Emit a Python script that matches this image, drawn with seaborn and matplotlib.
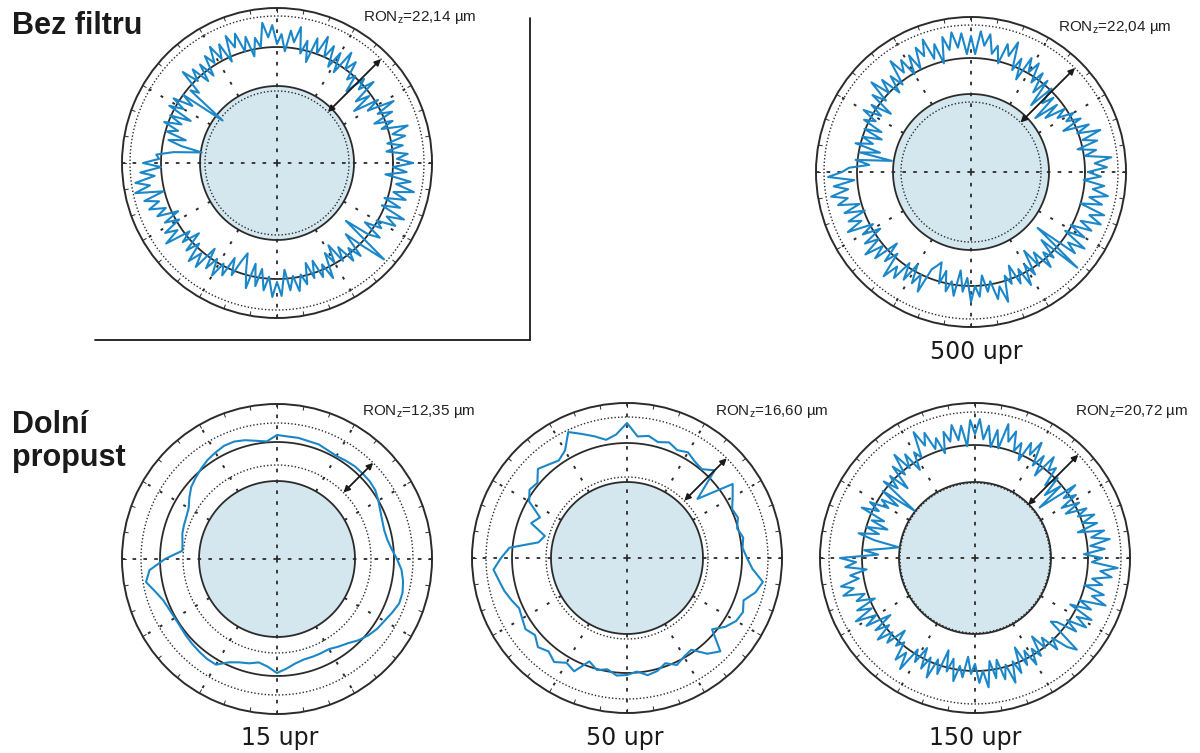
import numpy as np
import matplotlib
matplotlib.use("Agg")
import matplotlib.pyplot as plt
from matplotlib.lines import Line2D
import seaborn as sns

sns.set_theme(style="white")
plt.rcParams['font.family'] = ['Liberation Sans', 'DejaVu Sans']

# ---------------- data ----------------
headings = ["Bez filtru", "Dolní", "propust"]
speed_labels = ["", "500 upr", "15 upr", "50 upr", "150 upr"]
ron_values = ["22,14", "22,04", "12,35", "16,60", "20,72"]

# profile radii (outer circle = 155), equally spaced angles, CCW from east
bez_filtru_r = [
    136, 120, 131, 110, 127, 112, 131, 119, 136, 110,
    123, 105, 126, 112, 132, 105, 119, 93, 114, 100,
    126, 110, 121, 100, 117, 109, 128, 116, 133, 107,
    127, 109, 130, 116, 136, 117, 131, 105, 126, 112,
    138, 122, 133, 112, 129, 119, 138, 126, 141, 117,
    127, 109, 130, 116, 136, 123, 137, 111, 132, 118,
    134, 118, 129, 108, 125, 107, 126, 114, 131, 105,
    113, 69, 116, 102, 122, 108, 122, 96, 117, 103,
    120, 104, 115, 94, 111, 97, 76, 104, 121, 118,
    134, 116, 137, 123, 143, 129, 145, 117, 138, 124,
    136, 120, 131, 110, 127, 113, 132, 120, 137, 111,
    123, 105, 126, 112, 132, 118, 132, 106, 127, 113,
    130, 114, 125, 104, 121, 105, 95, 112, 129, 103,
    125, 107, 128, 114, 134, 119, 133, 107, 128, 114,
    130, 114, 125, 104, 121, 104, 123, 111, 128, 102,
    115, 97, 118, 104, 124, 111, 125, 99, 120, 144,
    90, 116, 127, 106, 123, 115, 134, 122, 139, 113,
    131, 113, 134, 120, 140, 121, 135, 109, 130, 116,
]
upr500_r = [
    117, 136, 124, 141, 115, 127, 109, 130, 116, 136,
    113, 127, 101, 122, 108, 118, 102, 113, 92, 109,
    84, 111, 99, 116, 90, 119, 101, 122, 108, 128,
    115, 129, 103, 124, 110, 138, 122, 133, 112, 129,
    120, 139, 127, 141, 118, 136, 118, 139, 125, 141,
    124, 138, 112, 133, 119, 141, 125, 136, 115, 132,
    113, 132, 120, 137, 111, 125, 107, 128, 114, 134,
    111, 125, 99, 120, 106, 124, 108, 119, 98, 115,
    95, 114, 102, 119, 93, 113, 80, 116, 102, 122,
    129, 143, 117, 138, 124, 142, 126, 137, 116, 133,
    113, 132, 120, 137, 111, 125, 107, 128, 114, 134,
    115, 129, 103, 124, 110, 136, 120, 131, 110, 127,
    107, 126, 114, 131, 105, 100, 95, 116, 102, 122,
    111, 125, 99, 120, 106, 130, 114, 125, 104, 121,
    111, 130, 118, 135, 109, 119, 101, 122, 108, 128,
    107, 121, 95, 116, 102, 124, 108, 119, 98, 143,
    87, 132, 120, 137, 111, 131, 113, 134, 120, 140,
    126, 140, 114, 135, 121, 139, 123, 134, 113, 130,
]
upr15_r = [
    120, 115, 112, 111, 112, 114, 117, 120, 121, 121, 121, 120,
    119, 120, 122, 122, 123, 123, 124, 118, 120, 123, 125, 125,
    123, 121, 118, 115, 112, 107, 102, 100, 99, 98, 96, 95,
    112, 128, 133, 126, 121, 119, 118, 118, 119, 120, 121, 122,
    122, 114, 110, 108, 105, 108, 114, 110, 106, 104, 104, 104,
    104, 107, 110, 115, 119, 122, 124, 127, 130, 130, 128, 125,
]
upr50_r = [
    120, 116, 118, 114, 118, 116, 122, 129, 92, 124, 116, 118,
    122, 119, 123, 120, 124, 122, 135, 124, 120, 126, 132, 139,
    124, 119, 122, 126, 117, 119, 113, 96, 102, 85, 90, 118,
    126, 134, 130, 127, 123, 119, 121, 124, 120, 126, 122, 127,
    121, 125, 110, 116, 113, 118, 117, 114, 119, 117, 112, 118,
    114, 112, 125, 132, 111, 120, 126, 128, 124, 133, 138, 126,
]
upr150_r = [
    127, 109, 130, 116, 136, 118, 132, 106, 127, 113,
    127, 111, 122, 101, 118, 100, 119, 107, 124, 82,
    112, 94, 115, 101, 121, 114, 128, 102, 123, 109,
    133, 117, 128, 107, 124, 114, 133, 121, 138, 112,
    130, 112, 133, 119, 139, 124, 138, 112, 133, 119,
    135, 119, 130, 109, 126, 116, 135, 123, 140, 114,
    122, 104, 125, 111, 131, 109, 123, 97, 118, 104,
    119, 77, 114, 93, 110, 100, 119, 107, 124, 98,
    110, 92, 113, 99, 119, 102, 77, 90, 111, 97,
    135, 119, 130, 109, 126, 118, 137, 125, 137, 116,
    126, 108, 129, 115, 135, 114, 128, 102, 123, 109,
    127, 111, 122, 101, 118, 110, 129, 117, 134, 108,
    120, 102, 123, 109, 129, 108, 122, 96, 117, 103,
    125, 109, 120, 99, 116, 106, 125, 113, 130, 104,
    122, 104, 125, 111, 131, 110, 124, 98, 119, 105,
    123, 107, 118, 97, 114, 104, 123, 111, 128, 137,
    99, 104, 125, 111, 131, 118, 132, 106, 127, 113,
    139, 123, 134, 113, 130, 119, 138, 126, 143, 117,
]
profiles = [bez_filtru_r, upr500_r, upr15_r, upr50_r, upr150_r]

inner_disk_r = [77, 78, 78, 76, 76]
mean_circle_r = [116, 114, 117, 115, 113]
min_circle_r = [72, 70, 94, 81, 75]
max_circle_r = [147, 147, 136, 141, 146]

# ---------------- layout / style ----------------
W, H = 1200, 753
R = 155
centers = [(277, 163), (971, 172), (277, 559), (627, 558), (975, 558)]
ron_pos = [(363, 17), (1058, 27), (362, 412), (715, 412), (1075, 412)]
label_pos = [None, (976, 352), (280, 738), (625, 738), (975, 738)]

BLUE = "#1b87c8"
DISK = "#d4e7ef"
DARK = "#2b2b2b"
narrow = ['Liberation Sans Narrow', 'Liberation Sans', 'DejaVu Sans']

fig = plt.figure(figsize=(W / 100, H / 100), dpi=100)
fig.patch.set_facecolor("white")


def draw_panel(ax, prof, r_in, r_mean, r_min, r_max):
    circ = np.linspace(0, 2 * np.pi, 721)
    ax.set_ylim(0, R)
    ax.set_facecolor("white")
    ax.grid(False)
    ax.set_xticks([])
    ax.set_yticks([])
    ax.spines['polar'].set_color(DARK)
    ax.spines['polar'].set_linewidth(1.4)
    # disk
    ax.fill_between(circ, 0, r_in, color=DISK, zorder=1, lw=0)
    # radial dotted grid
    for a in range(0, 360, 30):
        t = np.deg2rad(a)
        if a % 90 == 0:
            ax.plot([t, t], [0, R], color=DARK, lw=1.3,
                    linestyle=(0, (2, 4)), zorder=2)
        else:
            ax.plot([t, t], [r_in, R], color=DARK, lw=1.4,
                    linestyle=(0, (1.5, 5.5)), zorder=2)
    # small ticks on outer circle
    for a in range(0, 360, 10):
        t = np.deg2rad(a)
        ax.plot([t, t], [R - 4, R], color=DARK, lw=0.7, zorder=2)
    # min / max dotted circles
    for rc in (r_min, r_max):
        ax.plot(circ, np.full_like(circ, rc), color=DARK, lw=1.0,
                linestyle=(0, (1, 1.5)), zorder=3)
    # solid circles
    ax.plot(circ, np.full_like(circ, r_in), color=DARK, lw=1.3, zorder=3)
    ax.plot(circ, np.full_like(circ, r_mean), color=DARK, lw=1.3, zorder=3)
    # profile
    n = len(prof)
    theta = np.deg2rad(np.arange(n + 1) * 360.0 / n)
    rr = np.append(np.asarray(prof, float), prof[0])
    sns.lineplot(x=theta, y=rr, sort=False, estimator=None, ax=ax,
                 color=BLUE, lw=1.5, zorder=5)
    ax.set_xlabel("")
    ax.set_ylabel("")
    # RON arrow
    t45 = np.deg2rad(45)
    ax.annotate("", xy=(t45, r_max), xytext=(t45, r_min),
                arrowprops=dict(arrowstyle="<|-|>", color="#1a1a1a", lw=1.3,
                                mutation_scale=9, shrinkA=0, shrinkB=0),
                zorder=6)
    ax.set_ylim(0, R)


for i, prof in enumerate(profiles):
    cx, cy = centers[i]
    ax = fig.add_axes([(cx - R) / W, (H - cy - R) / H, 2 * R / W, 2 * R / H],
                      projection="polar")
    draw_panel(ax, prof, inner_disk_r[i], mean_circle_r[i],
               min_circle_r[i], max_circle_r[i])
    tx, ty = ron_pos[i]
    fig.text(tx / W, 1 - ty / H,
             "RON$_{\\mathregular{z}}$=" + ron_values[i] + " µm",
             fontsize=11, family=narrow, color="#222222",
             ha="left", va="center")
    if label_pos[i] is not None:
        lx, ly = label_pos[i]
        fig.text(lx / W, 1 - ly / H, speed_labels[i], fontsize=17,
                 family=['DejaVu Sans'], color="#1a1a1a",
                 ha="center", va="center")

# headings
fig.text(12 / W, 1 - 34 / H, headings[0], fontsize=22, fontweight="bold",
         color="#1a1a1a", ha="left", va="baseline")
fig.text(12 / W, 1 - 433 / H, headings[1], fontsize=22, fontweight="bold",
         color="#1a1a1a", ha="left", va="baseline")
fig.text(12 / W, 1 - 466 / H, headings[2], fontsize=22, fontweight="bold",
         color="#1a1a1a", ha="left", va="baseline")

# frame around the unfiltered panel
fig.add_artist(Line2D([530 / W, 530 / W], [1 - 18 / H, 1 - 340 / H],
                      color="#1a1a1a", lw=1.3))
fig.add_artist(Line2D([95 / W, 530 / W], [1 - 340 / H, 1 - 340 / H],
                      color="#1a1a1a", lw=1.3))

fig.savefig("out.png", dpi=100, facecolor="white")
